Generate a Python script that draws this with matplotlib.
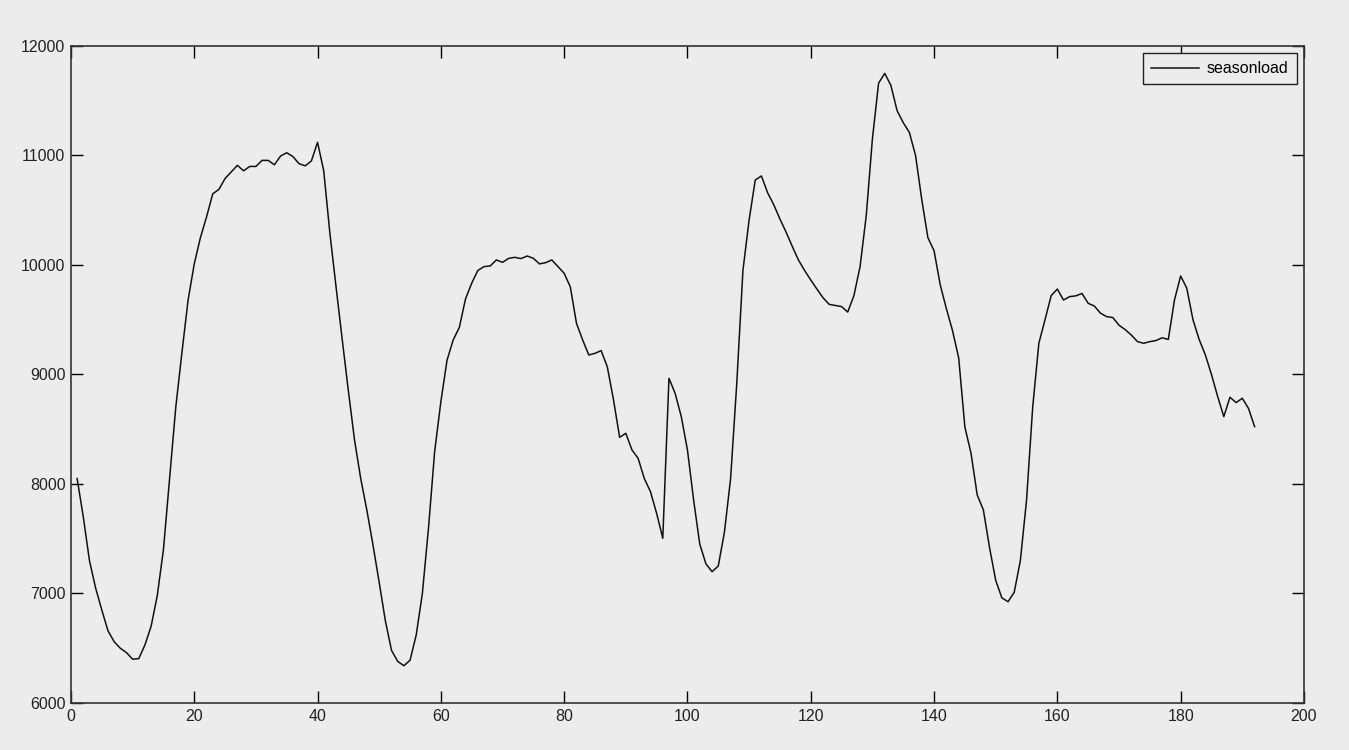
import numpy as np #importing the numpy library
import matplotlib
matplotlib.use('Agg')
import matplotlib.pyplot as plt #importing the matplotlib library

#### DATA - values
hours = list(range(1, 193)) #x positions 1..192
season_load = [
    8050, 7700, 7300, 7050, 6850, 6660, 6560, 6500, 6460, 6400,
    6405, 6530, 6700, 6980, 7400, 8050, 8700, 9200, 9680, 10010,
    10250, 10440, 10650, 10690, 10790, 10850, 10910, 10860, 10900, 10900,
    10955, 10955, 10915, 10995, 11025, 10990, 10925, 10905, 10950, 11120,
    10860, 10290, 9800, 9320, 8850, 8400, 8050, 7760, 7440, 7100,
    6750, 6480, 6380, 6340, 6390, 6620, 7000, 7600, 8300, 8750,
    9130, 9315, 9430, 9690, 9833, 9950, 9985, 9991, 10046, 10024,
    10060, 10070, 10058, 10082, 10061, 10010, 10021, 10046, 9985, 9924,
    9800, 9467, 9315, 9178, 9193, 9218, 9070, 8770, 8426, 8463,
    8311, 8234, 8050, 7930, 7732, 7504, 8965, 8828, 8615, 8311,
    7854, 7450, 7270, 7199, 7251, 7560, 8050, 8919, 9950, 10411,
    10776, 10813, 10660, 10550, 10420, 10300, 10170, 10046, 9950, 9863,
    9780, 9700, 9640, 9630, 9620, 9570, 9720, 9985, 10450, 11150,
    11660, 11750, 11640, 11410, 11300, 11210, 11000, 10600, 10250, 10130,
    9820, 9600, 9400, 9150, 8520, 8280, 7900, 7763, 7420, 7120,
    6960, 6925, 7010, 7300, 7850, 8700, 9285, 9500, 9720, 9780,
    9680, 9711, 9718, 9740, 9650, 9625, 9560, 9528, 9520, 9450,
    9410, 9360, 9300, 9285, 9300, 9310, 9335, 9320, 9680, 9900,
    9787, 9500, 9320, 9180, 9000, 8800, 8615, 8792, 8743, 8783,
    8691, 8523,
]
x_ticks = [0, 20, 40, 60, 80, 100, 120, 140, 160, 180, 200]
y_ticks = [6000, 7000, 8000, 9000, 10000, 11000, 12000]

bg = '#ececec' #matlab style gray background
plt.rcParams['font.family'] = ['Liberation Sans', 'DejaVu Sans']

fig = plt.figure(figsize=(13.49, 7.5), dpi=100, facecolor=bg)
ax = fig.add_axes([0.0526, 0.0627, 0.914, 0.876]) #axes box position
ax.set_facecolor(bg)

ax.plot(hours, season_load, color='#111111', linewidth=1.1, label='seasonload') #the load curve

ax.set_xlim(0, 200)
ax.set_ylim(6000, 12000)
ax.set_xticks(x_ticks)
ax.set_yticks(y_ticks)
ax.tick_params(direction='in', length=8.5, width=1, top=True, right=True,
               labelsize=11.5, labelcolor='#222222', pad=4)
for s in ax.spines.values():
    s.set_linewidth(1.2)
    s.set_color('#333333')

leg = ax.legend(loc='upper right', fancybox=False, edgecolor='#222222', facecolor=bg,
                framealpha=1, fontsize=11.5, handlelength=3.0, borderaxespad=0.45,
                borderpad=0.5, handletextpad=0.5)
leg.get_frame().set_linewidth(1.0)

fig.savefig('out.png', dpi=100, facecolor=bg) #save the figure
